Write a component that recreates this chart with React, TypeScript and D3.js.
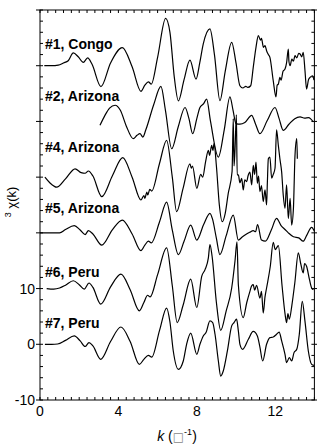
import { useEffect, useRef } from 'react'
import * as d3 from 'd3'

type Pt = [number, number]

// sample names, stacked from top to bottom
const sampleLabels = ['#1, Congo', '#2, Arizona', '#4, Arizona', '#5, Arizona', '#6, Peru', '#7, Peru']
// vertical offset of each spectrum (k^3 chi units)
const offsets = [50, 40, 30, 20, 10, 0]

const xTickLabels = [0, 4, 8, 12]
const yTickLabels = [-10, 0, 10]

// k (1/A), k^3 chi(k) relative to its own offset
const congo1: Pt[] = [
  [0.22, 0], [0.6, 0], [0.93, 0.1], [1.2, 0.5], [1.44, 0.9], [1.7, 2.3], [1.95, 1.6], [2.21, 0.6],
  [2.43, 1.4], [2.65, 0.3], [3.11, -3.75], [3.6, 0.5], [4.2, 3.25], [4.7, -0.2], [5.15, -4.6],
  [5.35, -3.5], [5.53, -2.9], [5.68, -3.3], [6.0, 1.5], [6.41, 8.5], [6.63, 6.0], [6.85, -2.0],
  [7.06, -6.3], [7.35, -2.5], [7.65, 1.0], [7.96, -2.4], [8.15, 0.5], [8.33, 3.9], [8.67, 6.6],
  [8.9, 2.0], [9.18, -6.25], [9.45, -1.0], [9.78, 4.2], [10.0, 0.5], [10.2, -3.6], [10.35, -4.0],
  [10.5, -3.7], [10.6, -3.9], [10.75, -3.6], [10.88, -0.3], [11.02, 3.3], [11.14, 5.4], [11.25, 4.6],
  [11.3, 4.9], [11.4, 3.3], [11.48, 3.6], [11.56, 2.7], [11.65, 2.0], [11.73, 1.5], [11.9, -2.7],
  [12.04, -5.6], [12.1, -3.5], [12.16, -3.3], [12.24, -2.1], [12.3, -2.6], [12.4, -1.0], [12.5, -0.6],
  [12.58, 0.5], [12.67, 3.0], [12.7, 0.8], [12.76, 0], [12.85, 1.2], [12.93, 0.8], [13.01, 1.8],
  [13.1, 1.4], [13.2, 2.2], [13.27, 2.1], [13.35, 1.6], [13.43, 2.4], [13.52, -0.9], [13.6, -4.2],
  [13.7, -2.5], [13.78, -2.1], [13.91, -1.8], [13.98, -2.6],
]

const arizona2: Pt[] = [
  [3.06, -0.7], [3.3, 1.0], [3.55, 2.4], [3.83, 2.9], [4.1, 2.0], [4.4, -0.8], [4.76, -3.1],
  [4.95, -2.5], [5.1, -2.2], [5.25, -2.8], [5.4, -1.5], [5.8, 3.0], [6.17, 6.3], [6.4, 2.0],
  [6.72, -4.9], [7.05, -1.0], [7.4, 2.5], [7.6, 0.5], [7.79, -2.2], [8.0, 0.5], [8.16, 2.5],
  [8.35, 3.2], [8.5, 4.0], [8.7, 0], [9.1, -6.4], [9.4, -1.5], [9.69, 4.4], [9.85, 2.0],
  [10.0, -0.4], [10.2, -0.5], [10.45, -0.2], [10.8, 1.1], [11.0, -0.5], [11.22, -2.2], [11.6, 0.2],
  [11.99, 2.5], [12.2, 0.5], [12.41, -1.6], [12.7, -0.5], [13.0, 0.5], [13.27, 0.8], [13.5, 0.6],
  [13.7, 0.7], [13.95, -0.1],
]

const arizona4: Pt[] = [
  [0.25, 0], [0.5, -1.0], [0.85, -1.8], [1.3, -0.3], [1.79, 1.5], [2.1, 0.8], [2.3, 0.7], [2.47, 1.1],
  [2.7, 0.2], [3.15, -3.5], [3.7, 0.3], [4.22, 3.5], [4.7, 0], [5.15, -4.1], [5.3, -3.3], [5.35, -3.8],
  [5.45, -2.7], [5.5, -3.2], [5.6, -2.2], [5.7, -2.5], [6.1, 2.5], [6.46, 6.6], [6.75, 0], [6.97, -6.2],
  [7.3, -2.0], [7.65, 2.4], [7.72, 1.6], [7.78, 2.0], [8.0, -2.0], [8.2, 0.5], [8.3, 0.0], [8.45, 2.8],
  [8.59, 4.8], [8.65, 3.9], [8.76, 5.7], [8.82, 4.8], [8.88, 6.0], [9.0, 2.0], [9.15, -5.0],
  [9.3, -8.0], [9.45, -6.5], [9.6, -3.0], [9.8, 1.0], [9.86, 10.5], [9.9, 2.0], [9.95, 5.0],
  [10.02, 11.2], [10.06, 0.4], [10.12, 0.4], [10.2, -1.0], [10.29, -0.2], [10.37, -2.3], [10.45, -0.5],
  [10.54, -0.8], [10.62, 0.3], [10.71, 0.9], [10.8, -1.4], [10.88, 2.1], [10.95, 0.5], [11.02, 2.7],
  [11.09, -1.1], [11.15, 0.2], [11.22, -2.6], [11.3, -1.5], [11.39, -4.4], [11.48, -2.3], [11.56, -5.0],
  [11.6, -1.0], [11.65, 3.3], [11.73, 3.6], [11.82, -0.2], [11.9, 0.5], [11.99, 1.6], [12.07, 8.5],
  [12.16, 5.7], [12.24, 3.3], [12.33, 0.9], [12.41, -3.2], [12.5, -5.6], [12.58, -1.4], [12.67, -7.4],
  [12.76, -3.8], [12.84, -8.6], [12.93, -5.6], [13.01, 3.9], [13.1, 6.9], [13.13, 3.3],
]

const arizona5: Pt[] = [
  [0, 0], [0.5, 0], [1.0, 0], [1.3, 0.6], [1.75, 1.3], [2.05, 0.5], [2.3, -0.3], [2.47, 0.4],
  [2.7, -0.2], [3.15, -2.2], [3.7, 0.6], [4.2, 2.3], [4.7, -0.2], [5.15, -3.2], [5.35, -2.2],
  [5.53, -1.5], [5.68, -1.8], [6.1, 2.0], [6.46, 5.5], [6.75, 0.5], [7.06, -3.9], [7.35, -1.5],
  [7.69, 1.4], [8.0, -1.3], [8.35, 1.5], [8.67, 3.5], [8.8, 2.5], [9.0, -1.0], [9.18, -3.9],
  [9.5, -0.5], [9.86, 3.2], [10.12, -1.3], [10.3, -0.8], [10.46, -0.4], [10.7, 0.1], [10.88, 0.4],
  [11.0, 0.2], [11.1, 1.5], [11.3, -1.3], [11.5, -1.5], [11.8, 0.5], [12.07, 2.6], [12.3, 1.3],
  [12.5, 0.6], [12.67, 0], [12.93, -0.7], [13.2, -0.9], [13.43, -1.5], [13.6, -0.5], [13.86, 1.0],
  [14.0, 0.3],
]

const peru6: Pt[] = [
  [0.34, 0], [0.7, -0.1], [1.0, 0.1], [1.3, 0.6], [1.7, 1.4], [2.0, 0.7], [2.26, -0.1], [2.5, 1.0],
  [2.7, 0.2], [3.1, -2.8], [3.6, 0.3], [4.13, 2.6], [4.6, -0.2], [5.07, -4.0], [5.3, -2.5],
  [5.49, -1.2], [5.62, -1.5], [6.0, 2.5], [6.46, 7.3], [6.75, 0.5], [7.0, -6.1], [7.3, -3.0],
  [7.69, 1.7], [8.0, -3.4], [8.25, 2.2], [8.42, 3.4], [8.59, 5.5], [8.67, 7.9], [8.78, 5.8],
  [9.0, -2.5], [9.22, -7.5], [9.5, -4.0], [9.78, 0.1], [9.95, 5.0], [10.05, 8.4], [10.12, 0.7],
  [10.37, -5.2], [10.55, -2.5], [10.71, -0.5], [10.8, 0.5], [10.88, 0.7], [10.95, -0.3], [11.05, 0.6],
  [11.22, -1.7], [11.3, -0.5], [11.39, -4.4], [11.48, -1.5], [11.56, 0.1], [11.75, 4.0], [11.9, 8.3],
  [12.0, 7.0], [12.16, 7.7], [12.35, 0.5], [12.5, -4.5], [12.58, -6.1], [12.65, -4.5], [12.72, -5.5],
  [12.85, -3.0], [13.0, 1.0], [13.18, 6.4], [13.3, 4.5], [13.43, 2.8], [13.5, 4.5], [13.6, 4.0],
  [13.75, 1.6], [13.86, 0.1], [13.95, -0.2],
]

const peru7: Pt[] = [
  [0.25, 0], [0.6, 0], [0.9, 0.05], [1.3, 0.7], [1.75, 1.5], [2.05, 0.6], [2.3, -0.4], [2.5, 0.3],
  [2.7, -0.3], [3.1, -2.7], [3.6, 0.5], [4.13, 3.1], [4.6, 0.5], [5.07, -3.6], [5.3, -2.7],
  [5.53, -2.0], [5.7, -2.3], [6.1, 2.5], [6.46, 6.5], [6.63, 4.0], [6.8, -1.2], [7.06, -4.5],
  [7.31, -3.0], [7.48, 0], [7.69, 2.0], [8.0, -1.8], [8.16, 0], [8.33, 1.5], [8.47, 2.1], [8.67, 4.2],
  [8.81, 3.9], [8.93, 1.8], [9.1, -3.0], [9.22, -5.7], [9.35, -4.8], [9.56, -1.2], [9.78, 3.3],
  [9.9, 3.9], [10.03, 4.5], [10.12, 2.4], [10.2, 0], [10.34, -0.9], [10.63, 0.9], [10.88, 2.3],
  [11.09, 1.5], [11.22, -0.5], [11.36, -3.0], [11.56, 0], [11.73, 1.2], [11.9, 1.3], [12.07, 1.8],
  [12.2, 2.2], [12.33, 0.6], [12.5, -1.8], [12.58, -3.3], [12.72, -2.4], [12.84, -3.0], [12.96, -1.5],
  [13.1, -0.9], [13.23, 1.8], [13.38, 7.7], [13.52, 4.1], [13.69, -1.2], [13.86, -3.6], [13.98, -3.8],
]

const spectra = [congo1, arizona2, arizona4, arizona5, peru6, peru7]

// layout: how far each sample name sits above its spectrum's offset
const labelLift = [3.0, 3.75, 4.6, 3.6, 2.0, 2.9]

export default function App() {
  const svgRef = useRef<SVGSVGElement>(null)
  const width = 317
  const height = 447

  useEffect(() => {
    if (!svgRef.current) return
    const svg = d3.select(svgRef.current)
    svg.selectAll('*').remove()

    const x = d3.scaleLinear().domain([0, 14]).range([40, 314.4])
    const y = d3.scaleLinear().domain([-10, 60]).range([400, 10])
    const font = 'Arial, "Liberation Sans", Helvetica, sans-serif'

    // frame
    svg.append('rect')
      .attr('x', x(0)).attr('y', y(60))
      .attr('width', x(14) - x(0)).attr('height', y(-10) - y(60))
      .attr('fill', 'none').attr('stroke', '#000').attr('stroke-width', 1)

    const ticks = svg.append('g').attr('stroke', '#000').attr('stroke-width', 1)

    // minor ticks, inward
    d3.range(0, 14.001, 0.4).forEach(k => {
      ticks.append('line').attr('x1', x(k)).attr('x2', x(k)).attr('y1', y(-10)).attr('y2', y(-10) - 3)
      ticks.append('line').attr('x1', x(k)).attr('x2', x(k)).attr('y1', y(60)).attr('y2', y(60) + 3)
    })
    d3.range(-10, 60.001, 2).forEach(v => {
      ticks.append('line').attr('x1', x(0)).attr('x2', x(0) + 3).attr('y1', y(v)).attr('y2', y(v))
      ticks.append('line').attr('x1', x(14)).attr('x2', x(14) - 3).attr('y1', y(v)).attr('y2', y(v))
    })
    // major ticks, outward
    d3.range(-10, 60.001, 10).forEach(v => {
      ticks.append('line').attr('x1', x(0) - 4).attr('x2', x(0)).attr('y1', y(v)).attr('y2', y(v))
      ticks.append('line').attr('x1', x(14)).attr('x2', x(14) + 3).attr('y1', y(v)).attr('y2', y(v))
    })

    // tick labels
    svg.append('g').selectAll('text').data(xTickLabels).join('text')
      .attr('x', d => x(d)).attr('y', 416)
      .attr('text-anchor', 'middle')
      .style('font-family', font).style('font-size', '14px')
      .text(d => d)

    svg.append('g').selectAll('text').data(yTickLabels).join('text')
      .attr('x', 35).attr('y', d => y(d) + 5)
      .attr('text-anchor', 'end')
      .style('font-family', font).style('font-size', '14px')
      .text(d => d)

    // spectra
    const line = d3.line<Pt>()
      .x(d => x(d[0]))
      .curve(d3.curveMonotoneX)

    spectra.forEach((s, i) => {
      line.y(d => y(d[1] + offsets[i]))
      svg.append('path')
        .attr('d', line(s) as string)
        .attr('fill', 'none')
        .attr('stroke', '#000')
        .attr('stroke-width', 1.2)
        .attr('stroke-linejoin', 'round')
    })

    // sample names
    svg.append('g').selectAll('text').data(sampleLabels).join('text')
      .attr('x', 45)
      .attr('y', (d, i) => y(offsets[i] + labelLift[i]))
      .style('font-family', font).style('font-size', '14px').style('font-weight', 'bold')
      .text(d => d)

    // y axis title
    const yt = svg.append('text')
      .attr('transform', 'translate(16,202) rotate(-90)')
      .attr('text-anchor', 'middle')
      .style('font-family', font).style('font-size', '13px')
    yt.append('tspan').attr('font-size', '9px').attr('dy', -5).text('3')
    yt.append('tspan').attr('dy', 5).text(' \u03c7(k)')

    // x axis title
    const xt = svg.append('text')
      .attr('x', 177).attr('y', 441)
      .attr('text-anchor', 'middle')
      .style('font-family', font).style('font-size', '14px')
    xt.append('tspan').attr('font-style', 'italic').text('k')
    xt.append('tspan').text(' (')
    xt.append('tspan').attr('fill', '#888').style('font-family', '"DejaVu Sans"').style('font-size', '12px').text('\u25a1')
    xt.append('tspan').attr('font-size', '9px').attr('dy', -6).text('-1')
    xt.append('tspan').attr('dy', 6).text(')')
  }, [])

  return (
    <svg
      ref={svgRef}
      width={width}
      height={height}
      style={{ position: 'absolute', left: 0, top: 0, background: '#fff' }}
    />
  )
}
